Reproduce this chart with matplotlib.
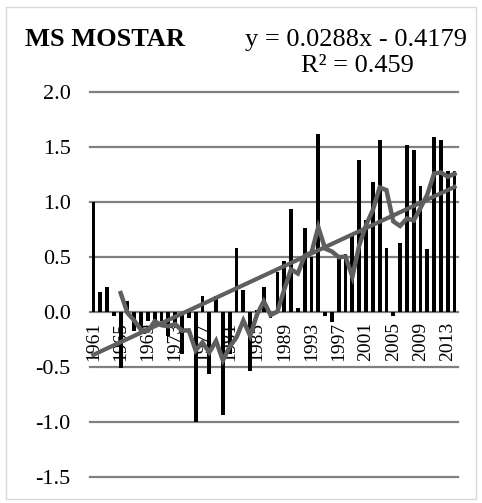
import numpy as np
import pandas as pd
import matplotlib
matplotlib.use("Agg")
import matplotlib.pyplot as plt
from matplotlib.patches import Rectangle

plt.rcParams['font.family'] = ['Liberation Serif', 'DejaVu Serif']

# Yearly values (MS Mostar)
years = list(range(1961, 2015))
values = [1.00, 0.18, 0.23, -0.04, -0.51, 0.10, -0.17, -0.20, -0.08, -0.07,
          -0.08, -0.22, -0.10, -0.38, -0.05, -1.00, 0.15, -0.56, 0.15, -0.94,
          -0.38, 0.58, 0.20, -0.54, 0.02, 0.23, -0.05, 0.36, 0.46, 0.94,
          0.04, 0.76, 0.50, 1.62, -0.04, -0.09, 0.50, 0.53, 0.70, 1.38,
          0.84, 1.18, 1.56, 0.58, -0.04, 0.63, 1.52, 1.47, 1.15, 0.57,
          1.59, 1.56, 1.28, 1.28]
tick_years = list(range(1961, 2015, 4))
y_ticks = [-1.5, -1.0, -0.5, 0.0, 0.5, 1.0, 1.5, 2.0]

# trendline from the equation shown on the chart
slope = 0.0288
intercept = -0.4179
eq_text = "y = 0.0288x - 0.4179"
r2_text = "R² = 0.459"

df = pd.DataFrame({'year': years, 'val': values})
df['ma5'] = df['val'].rolling(5).mean()
xpos = np.arange(len(df))
trend = slope * (xpos + 1) + intercept

fig = plt.figure(figsize=(4.82, 5.03), dpi=100)
ax = fig.add_axes([90/482, 1-477/503, (458-90)/482, (477-92)/503])

# gridlines
for yv in y_ticks:
    ax.axhline(yv, color='#808080', lw=1.6, zorder=0, clip_on=False)

ax.bar(xpos, df['val'], width=0.55, color='black', zorder=2)
ax.plot(xpos, df['ma5'], color='#5f5f5f', lw=3.2, zorder=3, solid_joinstyle='miter')
ax.plot(xpos, trend, color='#5f5f5f', lw=3.0, zorder=3)

ax.set_xlim(-0.5, len(df) - 0.5)
ax.set_ylim(-1.5, 2.0)
ax.set_yticks(y_ticks)
ax.set_yticklabels(['%.1f' % v for v in y_ticks], fontsize=16)
ax.tick_params(axis='y', length=0, pad=14)

ax.spines['bottom'].set_position(('data', 0))
for s in ['top', 'right', 'left', 'bottom']:
    ax.spines[s].set_visible(False)
ax.set_xticks([years.index(y) for y in tick_years])
ax.set_xticklabels([str(y) for y in tick_years], rotation=90, fontsize=14)
ax.tick_params(axis='x', length=0, pad=7)

# title and equation
fig.text(25/482, 1-46/503, "MS MOSTAR", fontsize=19, fontweight='bold', ha='left', va='baseline')
fig.text(356/482, 1-46/503, eq_text, fontsize=19, ha='center', va='baseline')
fig.text(357/482, 1-72/503, r2_text, fontsize=19, ha='center', va='baseline')

# outer chart border
fig.patches.append(Rectangle((6/482, 4/503), 470/482, 492/503, transform=fig.transFigure,
                             fill=False, edgecolor='#d9d9d9', lw=1.0))

fig.savefig('out.png', dpi=100)
